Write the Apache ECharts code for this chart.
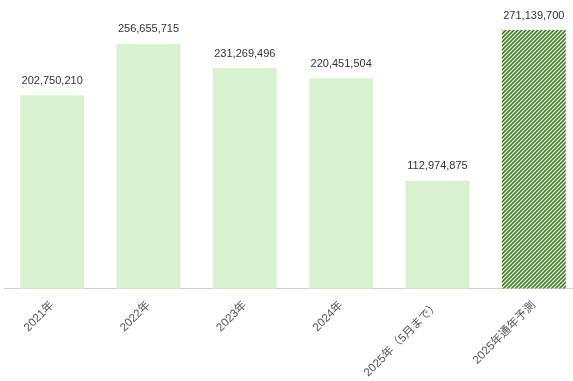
<!DOCTYPE html>
<html><head><meta charset="utf-8">
<script src="https://cdn.jsdelivr.net/npm/echarts@6/dist/echarts.min.js"></script>
<style>html,body{margin:0;padding:0;background:#fff;overflow:hidden;width:573px;height:381px}#c{position:fixed;left:0;top:0;width:590px;height:381px}</style>
</head><body><div id="c"></div>
<script>
var categories = ['2021年','2022年','2023年','2024年','2025年（5月まで）','2025年通年予測'];
var values = [202750210, 256655715, 231269496, 220451504, 112974875, 271139700];
var hatchedIndex = 5;

function makePattern(){
  var s = 4;
  var cv = document.createElement('canvas');
  cv.width = s; cv.height = s;
  var ctx = cv.getContext('2d');
  ctx.fillStyle = '#ffffff';
  ctx.fillRect(0,0,s,s);
  ctx.strokeStyle = '#3b7d1c';
  ctx.lineWidth = 1.6;
  ctx.beginPath();
  ctx.moveTo(-1, s+1); ctx.lineTo(s+1, -1);
  ctx.moveTo(-1, 1); ctx.lineTo(1, -1);
  ctx.moveTo(s-1, s+1); ctx.lineTo(s+1, s-1);
  ctx.stroke();
  return {image: cv, repeat: 'repeat'};
}
var pattern = makePattern();

var chart = echarts.init(document.getElementById('c'), null, {renderer:'canvas'});
var fontFam = '"Liberation Sans", Arial, "Noto Sans CJK JP", sans-serif';
chart.setOption({
  animation: false,
  grid: {left: 4, width: 578, top: 2.6, height: 286.4, containLabel: false},
  xAxis: {
    type: 'category',
    data: categories,
    axisLine: {lineStyle: {color: '#d0d0d0', width: 1}},
    axisTick: {show: false},
    axisLabel: {rotate: 45, color: '#555', fontSize: 11.5, fontFamily: fontFam, interval: 0, margin: 15}
  },
  yAxis: {
    type: 'value', min: 0, max: 300000000, show: false,
    splitLine: {show: false}
  },
  series: [{
    type: 'bar',
    barWidth: '66.4%',
    data: values.map(function(v, i){
      return i === hatchedIndex ? {value: v, itemStyle: {color: pattern}} : v;
    }),
    itemStyle: {color: '#d8f2d0'},
    label: {
      show: true, position: 'top', distance: 9,
      color: '#333', fontSize: 11, fontFamily: fontFam,
      formatter: function(p){ return p.value.toLocaleString('en-US'); }
    }
  }]
});
</script></body></html>
